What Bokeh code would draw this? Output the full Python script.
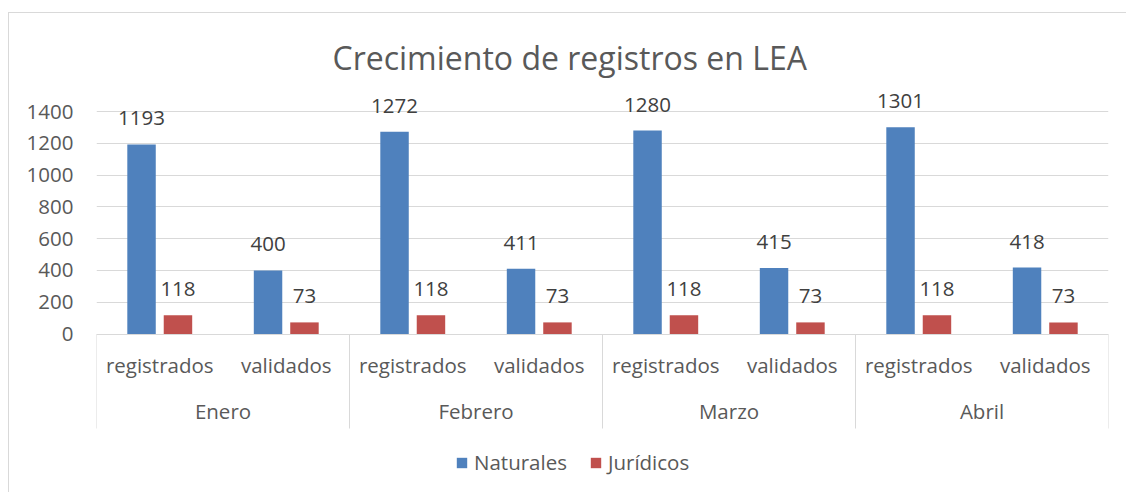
from bokeh.plotting import figure
from bokeh.models import FactorRange, Range1d, FixedTicker, Legend, LegendItem, ColumnDataSource
from bokeh.transform import dodge
from bokeh.core.properties import value
from bokeh.embed import file_html
from bokeh.resources import INLINE

# ---- data ----
months = ["Enero", "Febrero", "Marzo", "Abril"]
stages = ["registrados", "validados"]
naturales = [1193, 400, 1272, 411, 1280, 415, 1301, 418]
juridicos = [118, 73, 118, 73, 118, 73, 118, 73]
y_ticks = [0, 200, 400, 600, 800, 1000, 1200, 1400]
series_names = ["Naturales", "Jurídicos"]
series_colors = ["#4F81BD", "#C0504D"]
title_text = "Crecimiento de registros en LEA"

# ---- layout constants (figure pixels) ----
FONT = "Open Sans"
FS = "20.5px"
TXT = "#595959"
W, H = 1118, 480
MB_LEFT, MB_RIGHT, MB_TOP = 87, 19, 75
ZERO_Y = 320.5          # pixel row of value 0
TOP_Y = 98.0            # pixel row of value 1400
SEP_Y = 415.0           # bottom of group separators
k = (ZERO_Y - TOP_Y) / y_ticks[-1]
y_end = (ZERO_Y - MB_TOP) / k
y_start = -(H - ZERO_Y) / k
sep_bottom = -(SEP_Y - ZERO_Y) / k

factors = [(m, s) for m in months for s in stages]
src = ColumnDataSource(dict(
    x=factors,
    nat=naturales,
    jur=juridicos,
    nat_lbl=[str(v) for v in naturales],
    jur_lbl=[str(v) for v in juridicos],
))

x_range = FactorRange(*factors, range_padding=0, group_padding=0,
                      subgroup_padding=0, factor_padding=0)
p = figure(x_range=x_range, y_range=Range1d(y_start, y_end),
           width=W, height=H, output_backend="svg", toolbar_location=None,
           x_axis_location=None, title=title_text,
           min_border_left=MB_LEFT, min_border_right=MB_RIGHT,
           min_border_top=MB_TOP, min_border_bottom=0)
p.styles = {"border-top": "1px solid #d9d9d9", "border-left": "1px solid #d9d9d9",
            "box-sizing": "border-box", "margin-top": "12px", "margin-left": "8px"}
p.outline_line_color = None
p.background_fill_color = "white"
p.border_fill_color = "white"

p.title.text_font = FONT
p.title.text_font_size = "32px"
p.title.text_font_style = "normal"
p.title.text_color = TXT
p.title.align = "left"
p.title.offset = 236
p.title.standoff = 19

# y axis
p.yaxis.ticker = FixedTicker(ticks=y_ticks)
p.yaxis.axis_line_color = None
p.yaxis.major_tick_line_color = None
p.yaxis.minor_tick_line_color = None
p.yaxis.major_tick_out = 0
p.yaxis.major_label_standoff = 23
p.yaxis.major_label_text_font = FONT
p.yaxis.major_label_text_font_size = FS
p.yaxis.major_label_text_color = TXT
p.ygrid.grid_line_color = "#d9d9d9"
p.ygrid.grid_line_width = 1
p.xgrid.visible = False

OFF, BW = 0.144, 0.225
r1 = p.vbar(x=dodge("x", -OFF, range=p.x_range), top="nat", width=BW, source=src,
            fill_color=series_colors[0], line_color=None)
r2 = p.vbar(x=dodge("x", OFF, range=p.x_range), top="jur", width=BW, source=src,
            fill_color=series_colors[1], line_color=None)

lbl_kw = dict(text_align="center", text_baseline="middle", y_offset=-26,
              text_font=value(FONT), text_font_size=value(FS), text_color="#404040")
p.text(x=dodge("x", -OFF, range=p.x_range), y="nat", text="nat_lbl", source=src, **lbl_kw)
p.text(x=dodge("x", OFF, range=p.x_range), y="jur", text="jur_lbl", source=src, **lbl_kw)

# category axis (two levels) drawn inside the frame
cat_kw = dict(text_align="center", text_baseline="middle", text_font=value(FONT),
              text_font_size=value(FS), text_color=TXT)
p.text(x=factors, y=[0] * len(factors), text=[s for _, s in factors], y_offset=31, **cat_kw)
p.text(x=months, y=[0] * len(months), text=months, y_offset=77, **cat_kw)

sep_x = [(m, stages[0], -0.5) for m in months] + [(months[-1], stages[-1], 0.5)]
p.segment(x0=sep_x, y0=[0] * len(sep_x), x1=sep_x, y1=[sep_bottom] * len(sep_x),
          line_color="#d9d9d9", line_width=1)

legend = Legend(items=[LegendItem(label=series_names[0], renderers=[r1]),
                       LegendItem(label=series_names[1], renderers=[r2])],
                orientation="horizontal", location=(359, 17),
                border_line_color=None, background_fill_alpha=0,
                padding=0, margin=0, spacing=22, glyph_width=13, glyph_height=13,
                label_standoff=6, label_text_font=FONT, label_text_font_size=FS,
                label_text_color=TXT)
p.add_layout(legend)

open("out.html", "w").write(file_html(p, INLINE))
